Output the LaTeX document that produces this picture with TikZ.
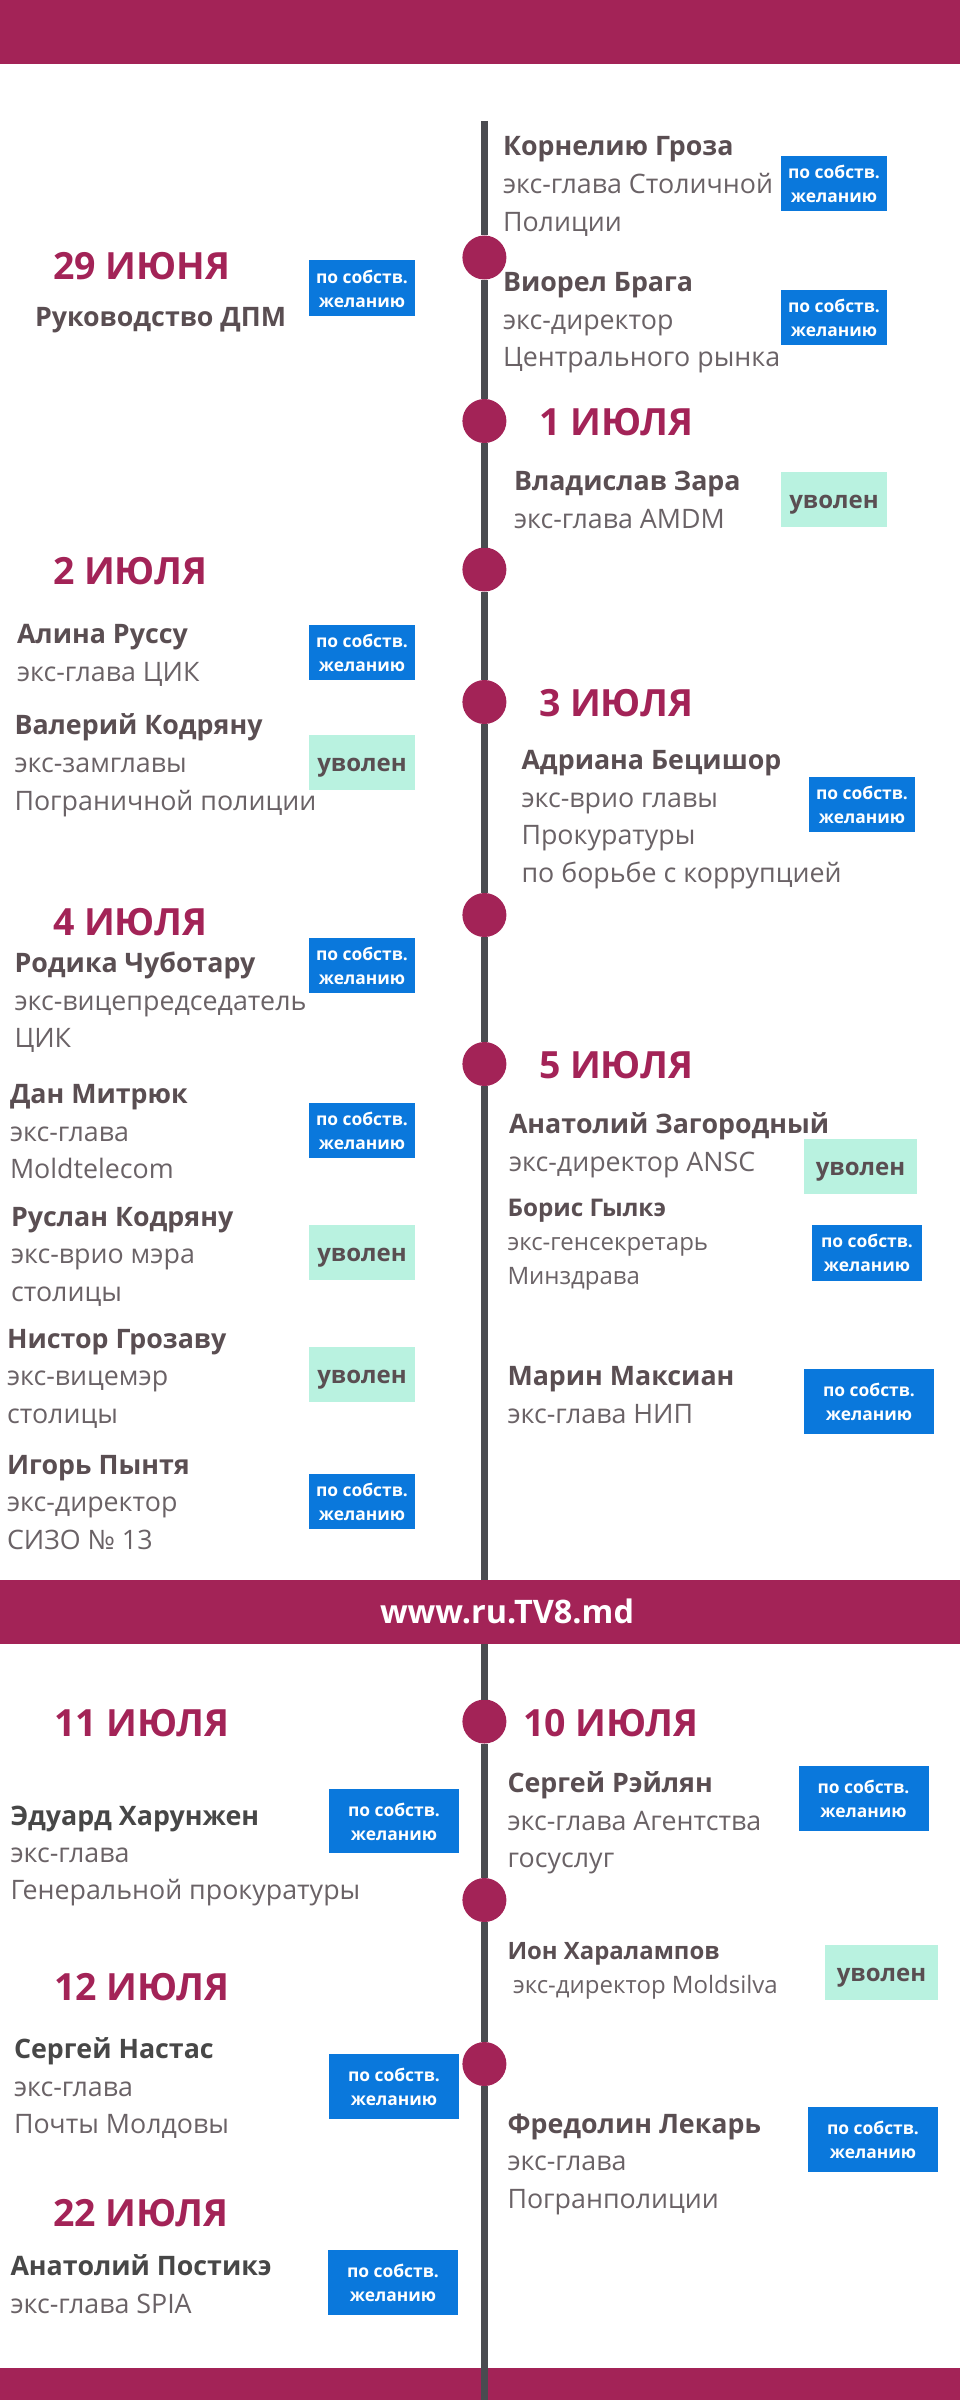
\documentclass[tikz,border=0pt]{standalone}
\usepackage{fontspec}
\setmainfont{Open Sans}
\usetikzlibrary{positioning}
\definecolor{wine}{HTML}{A32357}
\definecolor{spine}{HTML}{4A4B50}
\definecolor{blueq}{HTML}{0A78DC}
\definecolor{mintq}{HTML}{B9F2E0}
\definecolor{namegrey}{HTML}{5A4E52}
\definecolor{rolegrey}{HTML}{6A6266}
\tikzset{
  band/.style={fill=wine,minimum width=960pt,inner sep=0pt,outer sep=0pt},
  dot/.style={circle,fill=wine,minimum size=44pt,inner sep=0pt,outer sep=0pt},
  day/.style={anchor=base west,inner sep=0pt,outer sep=0pt,text=wine,font=\fontsize{37.5}{37.5}\selectfont\bfseries},
  person/.style={anchor=base west,inner sep=0pt,outer sep=0pt,text=namegrey,font=\fontsize{26.8}{26.8}\selectfont\bfseries},
  dark/.style={text=black!72},
  role/.style={inner sep=0pt,outer sep=0pt,text=rolegrey,align=left,
    font=\fontsize{26.8}{37.5}\selectfont},
  smallrole/.style={font=\fontsize{24}{34}\selectfont},
  tag/.style={minimum width=106.5pt,minimum height=55pt,inner sep=0pt,outer sep=0pt},
  quit/.style={tag,fill=blueq,text=white,align=center,text height=38pt,text depth=0pt,
    font=\fontsize{17.4}{24}\selectfont\bfseries},
  big/.style={minimum width=130pt,minimum height=64.5pt},
  fired/.style={tag,fill=mintq,text=namegrey,text height=18pt,text depth=0pt,
    font=\fontsize{24}{24}\selectfont\bfseries}
}

\begin{document}
\begin{tikzpicture}[x=1pt,y=-1pt]

    \useasboundingbox (0,0) rectangle (960,2400);

    % bands
    \node[band,minimum height=64pt] (topband) at (480,32) {};
    \node[band,minimum height=64pt] (site) at (480,1612) {};
    \node[band,minimum height=32pt] (endband) at (480,2384) {};
    \node[anchor=base,inner sep=0pt,text=white,font=\fontsize{32.4}{32.4}\selectfont\bfseries]
      (url) at (507,1623) {www.ru.TV8.md};

    % timeline
    \coordinate (start) at (484.4,121);
    \coordinate (end) at (484.4,2400);
    \node[dot] (d1) at (484.4,257.5) {};
    \node[dot] (d2) at (484.4,421) {};
    \node[dot] (d3) at (484.4,569.5) {};
    \node[dot] (d4) at (484.4,702) {};
    \node[dot] (d5) at (484.4,915) {};
    \node[dot] (d6) at (484.4,1064) {};
    \node[dot] (d7) at (484.4,1721.5) {};
    \node[dot] (d8) at (484.4,1900) {};
    \node[dot] (d9) at (484.4,2064) {};

    \path[draw=spine,line width=7.5pt]
      (start) edge (d1)
      (d1) edge (d2)
      (d2) edge (d3)
      (d3) edge (d4)
      (d4) edge (d5)
      (d5) edge (d6)
      (d6) edge (d6 |- site.north)
      (d7 |- site.south) edge (d7)
      (d7) edge (d8)
      (d8) edge (d9)
      (d9) edge (end);

    % dates
    \node[day] (june29) at (53,279.5) {29 ИЮНЯ};
    \node[day] (july1) at (539.5,435.5) {1 ИЮЛЯ};
    \node[day] (july2) at (53,584.5) {2 ИЮЛЯ};
    \node[day] (july3) at (539,716) {3 ИЮЛЯ};
    \node[day] (july4) at (53,935) {4 ИЮЛЯ};
    \node[day] (july5) at (539,1078) {5 ИЮЛЯ};
    \node[day] (july11) at (54,1736.5) {11 ИЮЛЯ};
    \node[day] (july10) at (523,1736.5) {10 ИЮЛЯ};
    \node[day] (july12) at (54,2000) {12 ИЮЛЯ};
    \node[day] (july22) at (53,2226.5) {22 ИЮЛЯ};

    % people, role anchored at its last line
    \node[person] (dpm) at (35,326.5) {Руководство ДПМ};
    \node[quit] (dpmq) at (362,288) {по собств.\\желанию};

    \node[person] (groza) at (503,156) {Корнелию Гроза};
    \node[role] (grozar) [below=75.5pt of groza.base west,anchor=base west] {экс-глава Столичной\\Полиции};
    \node[quit] (grozaq) at (834,184) {по собств.\\желанию};

    \node[person] (braga) at (503,291) {Виорел Брага};
    \node[role] (bragar) [below=75.5pt of braga.base west,anchor=base west] {экс-директор\\Центрального рынка};
    \node[quit] (bragaq) at (834,317.5) {по собств.\\желанию};

    \node[person] (zara) at (514,490) {Владислав Зара};
    \node[role] (zarar) [below=38pt of zara.base west,anchor=base west] {экс-глава AMDM};
    \node[fired] (zaraq) at (834,499) {уволен};

    \node[person] (russu) at (17,643) {Алина Руссу};
    \node[role] (russur) [below=38pt of russu.base west,anchor=base west] {экс-глава ЦИК};
    \node[quit] (russuq) at (362,652.5) {по собств.\\желанию};

    \node[person] (codreanu) at (14.5,734.5) {Валерий Кодряну};
    \node[role] (codreanur) [below=75.5pt of codreanu.base west,anchor=base west] {экс-замглавы\\Пограничной полиции};
    \node[fired] (codreanuq) at (362,762) {уволен};

    \node[person] (betisor) at (521.5,769) {Адриана Бецишор};
    \node[role] (betisorr) [below=113pt of betisor.base west,anchor=base west] {экс-врио главы\\Прокуратуры\\по борьбе с коррупцией};
    \node[quit] (betisorq) at (862,804) {по собств.\\желанию};

    \node[person] (ciubotaru) at (14.5,972) {Родика Чуботару};
    \node[role] (ciubotarur) [below=75.5pt of ciubotaru.base west,anchor=base west] {экс-вицепредседатель\\ЦИК};
    \node[quit] (ciubotaruq) at (362,965) {по собств.\\желанию};

    \node[person] (mitriuc) at (10,1103) {Дан Митрюк};
    \node[role] (mitriucr) [below=75.5pt of mitriuc.base west,anchor=base west] {экс-глава\\Moldtelecom};
    \node[quit] (mitriucq) at (362,1130) {по собств.\\желанию};

    \node[person] (zagorodnii) at (509,1133) {Анатолий Загородный};
    \node[role] (zagorodniir) [below=38pt of zagorodnii.base west,anchor=base west] {экс-директор ANSC};
    \node[fired,minimum width=113pt] (zagorodniiq) at (860.5,1166.5) {уволен};

    \node[person] (ruslan) at (11,1226) {Руслан Кодряну};
    \node[role] (ruslanr) [below=75pt of ruslan.base west,anchor=base west] {экс-врио мэра\\столицы};
    \node[fired] (ruslanq) at (362,1252) {уволен};

    \node[person,font=\fontsize{24.3}{24.3}\selectfont\bfseries] (galca) at (507.5,1216.5) {Борис Гылкэ};
    \node[role,smallrole] (galcar) [below=67.5pt of galca.base west,anchor=base west] {экс-генсекретарь\\Минздрава};
    \node[quit,minimum width=110pt,minimum height=56pt] (galcaq) at (867,1252.5) {по собств.\\желанию};

    \node[person] (grozavu) at (7,1348) {Нистор Грозаву};
    \node[role] (grozavur) [below=75pt of grozavu.base west,anchor=base west] {экс-вицемэр\\столицы};
    \node[fired] (grozavuq) at (362,1374.5) {уволен};

    \node[person] (maxian) at (507.5,1385.5) {Марин Максиан};
    \node[role] (maxianr) [below=37.5pt of maxian.base west,anchor=base west] {экс-глава НИП};
    \node[quit,big] (maxianq) at (869,1401.5) {по собств.\\желанию};

    \node[person] (pintea) at (7,1474) {Игорь Пынтя};
    \node[role] (pintear) [below=75pt of pintea.base west,anchor=base west] {экс-директор\\СИЗО № 13};
    \node[quit] (pinteaq) at (362,1501) {по собств.\\желанию};

    \node[person] (railean) at (507.5,1792) {Сергей Рэйлян};
    \node[role] (raileanr) [below=75.5pt of railean.base west,anchor=base west] {экс-глава Агентства\\госуслуг};
    \node[quit,big] (raileanq) at (863.5,1798.5) {по собств.\\желанию};

    \node[person,dark] (harunjen) at (10.5,1825) {Эдуард Харунжен};
    \node[role] (harunjenr) [below=74.5pt of harunjen.base west,anchor=base west] {экс-глава\\Генеральной прокуратуры};
    \node[quit,big] (harunjenq) at (394,1821) {по собств.\\желанию};

    \node[person,font=\fontsize{23.9}{23.9}\selectfont\bfseries] (haralampov) at (507.5,1959) {Ион Харалампов};
    \node[role,smallrole,anchor=base west] (haralampovr) at (513,1993) {экс-директор Moldsilva};
    \node[fired,minimum width=112.5pt] (haralampovq) at (881.5,1972) {уволен};

    \node[person,dark] (nastas) at (14,2058) {Сергей Настас};
    \node[role] (nastasr) [below=75.5pt of nastas.base west,anchor=base west] {экс-глава\\Почты Молдовы};
    \node[quit,big] (nastasq) at (394,2086.5) {по собств.\\желанию};

    \node[person] (lecari) at (507.5,2133) {Фредолин Лекарь};
    \node[role] (lecarir) [below=75pt of lecari.base west,anchor=base west] {экс-глава\\Погранполиции};
    \node[quit,big] (lecariq) at (873,2139.5) {по собств.\\желанию};

    \node[person,dark] (postica) at (10.5,2275.5) {Анатолий Постикэ};
    \node[role] (posticar) [below=38pt of postica.base west,anchor=base west] {экс-глава SPIA};
    \node[quit,big] (posticaq) at (393,2282.5) {по собств.\\желанию};

\end{tikzpicture}
\end{document}
